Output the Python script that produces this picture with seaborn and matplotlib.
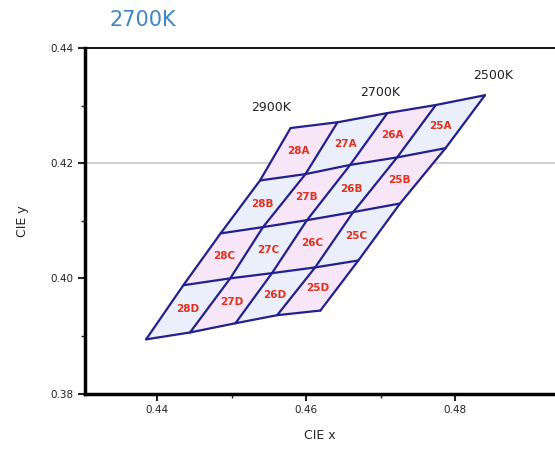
import numpy as np
import pandas as pd
import seaborn as sns
import matplotlib.pyplot as plt

# grid vertices of the 2700K quadrangle (top row -> bottom row)
cie_x_rows = [
    [0.4579, 0.4642, 0.4709, 0.4774, 0.4840],
    [0.4538, 0.4599, 0.4659, 0.4722, 0.4787],
    [0.4485, 0.4542, 0.4601, 0.4663, 0.4726],
    [0.4435, 0.4498, 0.4554, 0.4612, 0.4670],
    [0.4385, 0.4444, 0.4505, 0.4561, 0.4619],
]
cie_y_rows = [
    [0.4261, 0.4271, 0.4287, 0.4301, 0.4318],
    [0.4170, 0.4181, 0.4197, 0.4210, 0.4226],
    [0.4078, 0.4089, 0.4101, 0.4115, 0.4130],
    [0.3988, 0.4000, 0.4009, 0.4019, 0.4031],
    [0.3894, 0.3906, 0.3922, 0.3936, 0.3944],
]
col_codes = ["28", "27", "26", "25"]
row_codes = ["A", "B", "C", "D"]
cct_names = ["2900K", "2700K", "2500K"]
cct_cols = [0, 2, 4]

X = np.array(cie_x_rows)
Y = np.array(cie_y_rows)

sns.set_style("white")
plt.rcParams['font.family'] = ['DejaVu Sans']

fig = plt.figure(figsize=(5.55, 4.54), dpi=100)
ax = fig.add_axes([85 / 555, 1 - 393.5 / 454, 1 - 85 / 555, (393.5 - 48) / 454])

# pale fill of the cells
for i in range(4):
    for j in range(4):
        px = [X[i, j], X[i, j + 1], X[i + 1, j + 1], X[i + 1, j]]
        py = [Y[i, j], Y[i, j + 1], Y[i + 1, j + 1], Y[i + 1, j]]
        fc = "#f7e6f8" if (i + j) % 2 == 0 else "#ebeefb"
        ax.fill(px, py, color=fc, lw=0, zorder=1)

# grid lines, one row per vertex
recs = []
for i in range(5):
    for j in range(5):
        recs.append({"line": f"r{i}", "x": X[i, j], "y": Y[i, j]})
for j in range(5):
    for i in range(5):
        recs.append({"line": f"c{j}", "x": X[i, j], "y": Y[i, j]})
lines = pd.DataFrame(recs)
sns.lineplot(data=lines, x="x", y="y", units="line", estimator=None, sort=False,
             color="#22208c", lw=1.6, ax=ax, zorder=3)

# sub-bin labels
for i in range(4):
    for j in range(4):
        cx = X[i:i + 2, j:j + 2].mean()
        cy = Y[i:i + 2, j:j + 2].mean()
        ax.text(cx, cy, col_codes[j] + row_codes[i], color="#e0301e", fontsize=7.5,
                fontweight="bold", ha="center", va="center", zorder=4)

# CCT labels on the top edge
offs = [(-20, 21), (-7, 21), (8, 20)]
for name, j, off in zip(cct_names, cct_cols, offs):
    ax.annotate(name, (X[0, j], Y[0, j]), xytext=off, textcoords="offset pixels",
                ha="center", va="center", fontsize=9, color="#222222")

ax.axhline(0.42, color="#c8c8c8", lw=1.2, zorder=0)

ax.set_xlim(0.4303, 0.4934)
ax.set_ylim(0.38, 0.44)
ax.set_xticks([0.44, 0.46, 0.48])
ax.set_xticks([0.45, 0.47], minor=True)
ax.set_yticks([0.38, 0.40, 0.42, 0.44])
ax.set_yticks([0.39, 0.41, 0.43], minor=True)
ax.xaxis.set_major_formatter(plt.FormatStrFormatter("%.2f"))
ax.yaxis.set_major_formatter(plt.FormatStrFormatter("%.2f"))
ax.tick_params(which="major", direction="out", length=5, width=1.5, labelsize=7.5, colors="#222222")
ax.tick_params(which="minor", direction="out", length=3, width=1)
ax.tick_params(axis="x", which="both", bottom=True)
ax.tick_params(axis="y", which="both", left=True)

for s in ["left", "bottom"]:
    ax.spines[s].set_linewidth(2.5)
    ax.spines[s].set_color("black")
ax.spines["top"].set_linewidth(1.3)
ax.spines["top"].set_color("black")
ax.spines["right"].set_visible(False)

ax.set_xlabel("CIE x", fontsize=9, labelpad=10)
ax.set_ylabel("CIE y", fontsize=9, labelpad=15)
fig.text(143 / 555, 1 - 20 / 454, "2700K", color="#3d86c6", fontsize=15, ha="center", va="center")

fig.savefig("out.png", dpi=100)
